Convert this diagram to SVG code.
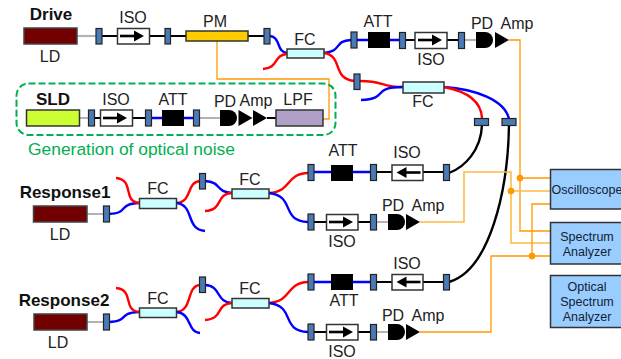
<svg xmlns="http://www.w3.org/2000/svg" width="621" height="359" viewBox="0 0 621 359">
<style>
text{font-family:"Liberation Sans",Arial,sans-serif;font-size:16px;fill:#222;text-anchor:middle}
.b{font-weight:bold;font-size:17px;fill:#111}
.s{font-size:12.500px;fill:#123}
.ld{fill:#720000;stroke:#444;stroke-width:1.500}
.c{fill:#4a7ab5;stroke:#222;stroke-width:1.200}
.iso{fill:#fff;stroke:#333;stroke-width:1.500}
.fc{fill:#ccffff;stroke:#333;stroke-width:1.500}
.att{fill:#000}
.box{fill:#99ccff;stroke:#333;stroke-width:1.500}
path{fill:none}
.k{stroke:#000;stroke-width:2}
.g{stroke:#b3b3b3;stroke-width:2.200}
.u{stroke:#00f;stroke-width:2.400}
.r{stroke:#f00;stroke-width:2.400}
.kc{stroke:#000;stroke-width:2.400}
.o{stroke:#f90;stroke-width:1.300}
.o2{stroke:#fb4;stroke-width:1.600}
.dot{fill:#f90;stroke:#f90}
</style>
<defs>
<path id="ar" d="M-13,0H6" stroke="#000" stroke-width="2.600"/>
<path id="ah" d="M1,-5.500L11,0L1,5.500Z" style="fill:#000"/>
<g id="arrow"><use href="#ar"/><use href="#ah"/></g>
<g id="pd"><path d="M0,-8H9A8,8 0 0 1 9,8H0Z" style="fill:#000"/></g>
<path id="tri" d="M0,-8L14,0L0,8Z" style="fill:#000"/>
</defs>
<g id="connectors">
<path class="g" d="M77,36H96"/>
<path class="k" d="M101,36H118M149,36H166M170,36H187M248,36H265"/>
<path class="u" d="M270,36C281,37 276,52 287,53"/>
<path class="r" d="M263,69C279,68 273,55 287,54"/>
<path class="u" d="M324,53C343,51 333,41 351,40M357,40H369M390,40H400"/>
<path class="k" d="M405,40H416M447,40H459"/>
<path class="g" d="M464,40H477"/>
<path class="r" d="M324,53C344,56 331,79 355,81M360,81C385,81 380,87 403,87"/>
<path class="u" d="M361,100C390,99 370,87 403,87"/>
<path class="u" d="M444,87C475,89 505,100 509,119"/>
<path class="r" d="M444,87C465,91 481,100 482,118"/>
<path class="kc" d="M482,125C481,150 465,167 449,173"/>
<path class="kc" d="M509,125C508,190 490,270 449,282"/>
<path class="o" d="M217,41V79H329V119H323"/>
<path class="g" d="M79,118H89M199,118H221"/>
<path class="k" d="M94,118H101M132,118H146M267,118H277"/>
<path class="u" d="M151,118H163M184,118H194"/>
<path class="g" d="M87,214H104M87,322H104M376,222H389M376,332H389"/>
<path class="u" d="M109,214C130,213 117,204 139,203"/>
<path class="r" d="M116,178C135,180 122,201 139,203"/>
<path class="r" d="M177,203C193,201 186,182 200,181"/>
<path class="u" d="M177,203C195,206 185,229 205,231"/>
<path class="u" d="M205,181C222,182 215,192 232,193"/>
<path class="r" d="M205,211C224,210 215,194 232,193"/>
<path class="r" d="M269,193C293,191 285,174 308,173"/>
<path class="u" d="M269,193C296,196 280,221 308,222"/>
<path class="u" d="M109,322C130,321 117,313 139,312"/>
<path class="r" d="M116,288C135,290 122,310 139,312"/>
<path class="r" d="M177,312C193,310 186,286 200,285"/>
<path class="u" d="M177,312C192,314 187,332 200,333"/>
<path class="u" d="M205,285C222,286 215,302 232,303"/>
<path class="r" d="M205,320C224,319 215,304 232,303"/>
<path class="r" d="M269,303C293,301 285,283 308,282"/>
<path class="u" d="M269,303C296,306 280,331 308,332"/>
<path class="u" d="M314,172H332M353,172H371M314,282H332M353,282H371"/>
<path class="k" d="M376,172H393M423,172H444M376,282H393M423,282H444M314,222H327M358,222H371M314,332H327M358,332H371"/>
<path class="o" d="M509,40H520V231H550M520,178H550"/>
<path class="o2" d="M420,222H464V172H511V243H550M511,191H550"/>
<path class="o" d="M420,332H491V256H550M532,256V204H550"/>
<circle class="dot" cx="520" cy="178" r="3"/>
<circle class="dot" cx="511" cy="191" r="3"/>
<circle class="dot" cx="532" cy="256" r="3"/>
</g>
<g id="drive">
<text class="b" x="51" y="20">Drive</text>
<rect class="ld" x="24" y="28" width="53" height="16"/>
<text x="50" y="62">LD</text>
<rect class="c" x="96" y="28.500" width="6" height="15.500"/>
<g id="drive-iso"><rect class="iso" x="117.500" y="28.500" width="32" height="15.500"/><use href="#arrow" x="133" y="36"/><text x="133" y="23">ISO</text></g>
<rect class="c" x="165" y="28.500" width="5.500" height="15.500"/>
<g id="pm"><rect x="186" y="31" width="62" height="10" style="fill:#fc0;stroke:#333;stroke-width:1.500"/><text x="215" y="27">PM</text></g>
<rect class="c" x="264" y="28.500" width="6" height="15.500"/>
</g>
<g id="fc-drive"><rect class="fc" x="287" y="49" width="37" height="9"/><text x="305" y="45">FC</text></g>
<g id="top-branch">
<rect class="c" x="351" y="32" width="6" height="16"/>
<rect class="att" x="368" y="32" width="22" height="16"/><text x="378" y="27">ATT</text>
<rect class="c" x="399.500" y="32.500" width="6" height="16"/>
<rect class="iso" x="415" y="32.500" width="32" height="16"/><use href="#arrow" x="431" y="40"/><text x="431" y="65">ISO</text>
<rect class="c" x="458.500" y="32.500" width="6" height="16"/>
<use href="#pd" x="476" y="40"/><use href="#tri" x="495" y="40"/>
<text x="482" y="29">PD</text><text x="517" y="29">Amp</text>
</g>
<g id="top-fc">
<rect class="c" x="354" y="74" width="6" height="15.500"/>
<rect class="fc" x="403" y="82" width="41" height="11"/><text x="423" y="107">FC</text>
<rect class="c" x="474.500" y="118.500" width="14" height="7"/>
<rect class="c" x="502" y="118.500" width="14" height="7"/>
</g>
<g id="sld">
<rect x="16.500" y="83.500" width="319" height="51.500" rx="12" style="fill:none;stroke:#00b050;stroke-width:2;stroke-dasharray:7 3"/>
<text class="b" x="53" y="105">SLD</text>
<rect x="26.500" y="110" width="53" height="16" style="fill:#ccff33;stroke:#333;stroke-width:1.500"/>
<rect class="c" x="88.500" y="110" width="6" height="16"/>
<rect class="iso" x="100.500" y="110" width="32" height="16"/><use href="#arrow" x="116" y="118"/><text x="116" y="105">ISO</text>
<rect class="c" x="145.500" y="110" width="6" height="16"/>
<rect class="att" x="162" y="110" width="22" height="16"/><text x="173" y="105">ATT</text>
<rect class="c" x="193.500" y="110" width="6" height="16"/>
<use href="#pd" x="220" y="118"/><use href="#tri" x="238.500" y="118"/><use href="#tri" x="253" y="118"/>
<text x="225" y="107">PD</text><text x="256" y="106">Amp</text>
<rect x="276" y="110" width="47" height="16" style="fill:#b0a0c8;stroke:#333;stroke-width:1.500"/><text x="298" y="105">LPF</text>
<text x="131.500" y="155" style="fill:#00b050;font-size:17.400px">Generation of optical noise</text>
</g>
<g id="response1">
<text class="b" x="65" y="198">Response1</text>
<rect class="ld" x="33.500" y="206" width="53.500" height="16"/><text x="60" y="240">LD</text>
<rect class="c" x="103.500" y="206" width="6" height="16"/>
<rect class="fc" x="139.500" y="198.500" width="37" height="10"/><text x="158" y="194">FC</text>
<rect class="c" x="199.500" y="173.500" width="6" height="15.500"/>
<rect class="fc" x="232" y="189" width="37" height="9.500"/><text x="250" y="185">FC</text>
<rect class="c" x="308" y="164.500" width="6" height="16"/>
<rect class="att" x="331" y="165" width="22" height="16"/><text x="343" y="156">ATT</text>
<rect class="c" x="370.500" y="164.500" width="6" height="16"/>
<rect class="iso" x="392" y="165" width="31" height="15.500"/><use href="#arrow" transform="translate(407.500,172.500) scale(-1,1)"/><text x="407" y="158">ISO</text>
<rect class="c" x="443.500" y="164.500" width="6" height="16"/>
<rect class="c" x="308" y="214" width="6" height="16"/>
<rect class="iso" x="326.500" y="214.500" width="31.500" height="15.500"/><use href="#arrow" x="342" y="222"/><text x="342" y="247">ISO</text>
<rect class="c" x="370.500" y="214.500" width="6" height="15.500"/>
<use href="#pd" x="388" y="222"/><use href="#tri" x="406" y="222"/>
<text x="393" y="211">PD</text><text x="428" y="211">Amp</text>
</g>
<g id="response2">
<text class="b" x="64" y="306">Response2</text>
<rect class="ld" x="34" y="314" width="53" height="16"/><text x="58" y="348">LD</text>
<rect class="c" x="103.500" y="314" width="6" height="16"/>
<rect class="fc" x="139.500" y="308" width="37" height="9.500"/><text x="158" y="304">FC</text>
<rect class="c" x="199.500" y="277" width="6" height="15.500"/>
<rect class="fc" x="232" y="298.500" width="37" height="9.500"/><text x="250" y="294">FC</text>
<rect class="c" x="308" y="274" width="6" height="16"/>
<rect class="att" x="331" y="274" width="22" height="16"/><text x="344" y="306">ATT</text>
<rect class="c" x="370.500" y="274.500" width="6" height="15.500"/>
<rect class="iso" x="392" y="274.500" width="31" height="15.500"/><use href="#arrow" transform="translate(407.500,282) scale(-1,1)"/><text x="407" y="269">ISO</text>
<rect class="c" x="443.500" y="274.500" width="6" height="15.500"/>
<rect class="c" x="308" y="324" width="6" height="16"/>
<rect class="iso" x="326.500" y="324.500" width="31.500" height="15.500"/><use href="#arrow" x="342" y="332"/><text x="342" y="357">ISO</text>
<rect class="c" x="370.500" y="324.500" width="6" height="15.500"/>
<use href="#pd" x="388" y="332"/><use href="#tri" x="406" y="332"/>
<text x="393" y="321">PD</text><text x="428" y="321">Amp</text>
</g>
<g id="oscilloscope"><rect class="box" x="550.500" y="169.500" width="72" height="39.500"/><text class="s" x="587" y="194">Oscilloscope</text></g>
<g id="spectrum"><rect class="box" x="550.500" y="222.500" width="72" height="41.500"/><text class="s" x="587" y="241">Spectrum</text><text class="s" x="587" y="256">Analyzer</text></g>
<g id="osa"><rect class="box" x="550.500" y="275.500" width="72" height="52"/><text class="s" x="587" y="291">Optical</text><text class="s" x="587" y="306">Spectrum</text><text class="s" x="587" y="321">Analyzer</text></g>
</svg>
